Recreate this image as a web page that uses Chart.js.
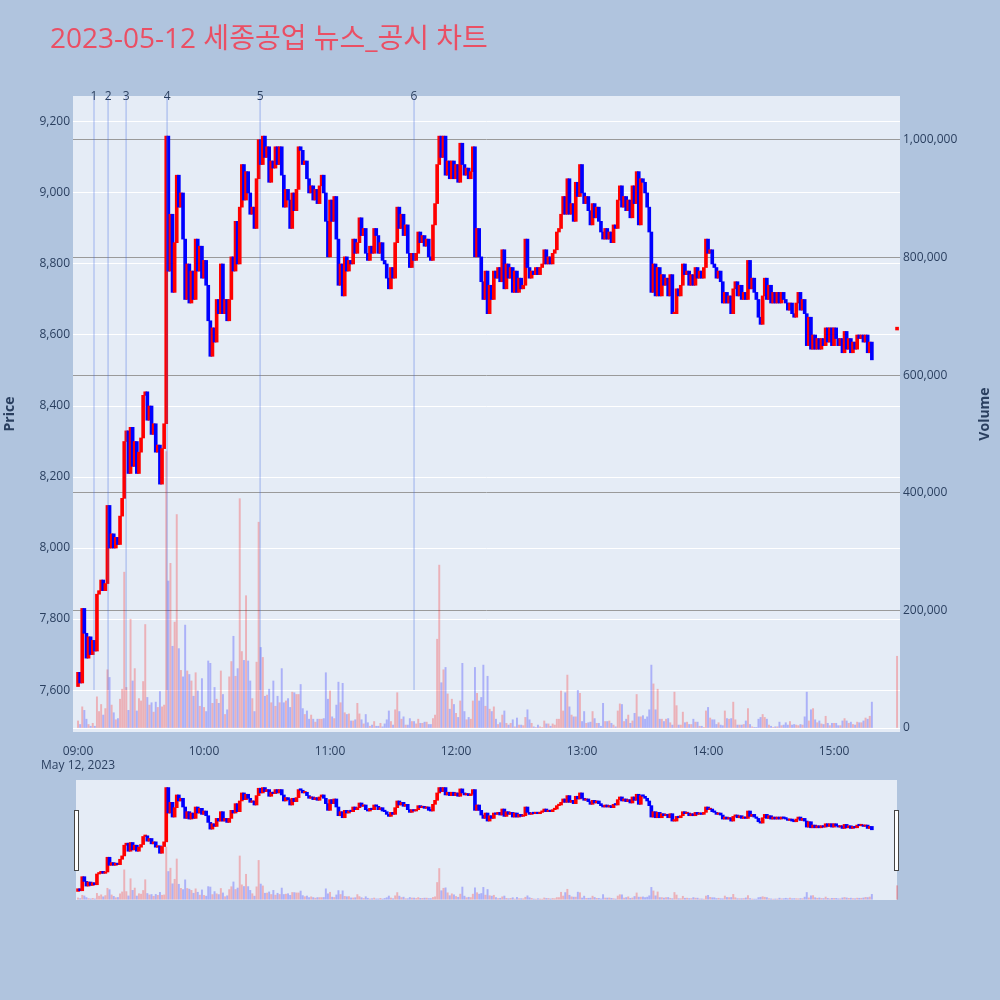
<!DOCTYPE html>
<html>
<head>
<meta charset="utf-8">
<script src="https://cdn.jsdelivr.net/npm/chart.js@4.4.0/dist/chart.umd.min.js"></script>
<style>
  body { margin: 0; background: #b0c4de; }
  #wrap { position: relative; width: 1000px; height: 1000px; }
  canvas { position: absolute; left: 0; }
</style>
</head>
<body>
<div id="wrap">
  <canvas id="main" width="1000" height="1000" style="top:0"></canvas>
  <canvas id="slider" width="1000" height="130" style="top:775px"></canvas>
</div>
<script>
// minutes after 09:00, one close per minute (open = previous close)
const dayOpen = 7610;
const closes = [
  7650,7620,7830,7760,7690,7750,7700,7740,7710,7870,
  7880,7910,7880,7900,8120,8000,8040,8000,8030,8010,
  8090,8140,8300,8330,8210,8340,8230,8300,8210,8270,
  8310,8430,8440,8360,8400,8320,8350,8270,8290,8180,
  8280,8350,9160,8780,8940,8720,8860,9050,8960,9000,
  8870,8700,8800,8690,8780,8700,8870,8780,8850,8760,
  8810,8740,8640,8540,8620,8580,8700,8660,8800,8660,
  8700,8640,8700,8820,8780,8920,8800,8960,9080,8980,
  9060,9000,8940,8960,8900,9040,9150,9080,9160,9100,
  9130,9030,9090,9070,9130,9080,9130,9050,8960,9010,
  8980,8900,9000,8950,9010,9130,9120,9080,9090,9040,
  9000,9020,8980,9010,8970,9020,9050,9000,8920,8820,
  8980,8920,8990,8870,8740,8800,8710,8820,8780,8810,
  8800,8870,8830,8860,8930,8880,8900,8830,8810,8850,
  8830,8900,8880,8830,8860,8810,8800,8760,8730,8790,
  8760,8860,8960,8900,8940,8880,8910,8830,8790,8830,
  8810,8830,8890,8860,8880,8850,8870,8820,8810,8910,
  8970,9080,9160,9100,9160,9050,9090,9040,9090,9040,
  9080,9030,9140,9080,9050,9070,9040,9060,9130,8820,
  8900,8820,8750,8700,8780,8660,8740,8700,8780,8760,
  8790,8750,8840,8730,8800,8760,8790,8720,8780,8720,
  8760,8730,8740,8870,8790,8760,8780,8770,8790,8770,
  8790,8800,8840,8800,8820,8800,8830,8840,8890,8900,
  8940,8990,8940,9040,8940,8970,8920,9030,8990,9080,
  9000,8970,8990,8950,8910,8970,8930,8960,8920,8890,
  8870,8900,8870,8890,8860,8910,8900,8980,9020,8960,
  8990,8950,8980,8930,9020,8970,9060,8910,9040,9030,
  9000,8960,8890,8720,8800,8710,8790,8710,8770,8740,
  8760,8710,8770,8660,8660,8730,8710,8740,8800,8770,
  8780,8740,8770,8740,8790,8760,8780,8760,8790,8870,
  8830,8840,8800,8790,8760,8780,8750,8690,8720,8690,
  8710,8660,8730,8750,8710,8740,8700,8720,8700,8810,
  8730,8760,8720,8700,8650,8630,8710,8760,8700,8740,
  8690,8720,8690,8720,8690,8720,8700,8690,8670,8690,
  8660,8650,8690,8720,8670,8700,8660,8570,8650,8560,
  8600,8560,8590,8560,8590,8570,8620,8580,8620,8570,
  8620,8590,8570,8590,8550,8610,8560,8590,8550,8580,
  8560,8600,8590,8600,8580,8600,8550,8580,8530
];
// volume per minute, thousands of shares
const volumes = [
  12,6,36,30,15,6,3,8,3,53,
  28,40,22,33,99,86,39,26,14,16,
  49,66,265,69,30,185,80,101,29,50,
  46,79,176,52,39,43,27,44,35,62,
  36,39,470,250,280,139,180,363,135,98,
  87,175,97,91,80,54,94,63,37,84,
  35,28,114,110,42,69,49,42,97,57,
  23,31,87,113,156,88,101,390,130,115,
  225,114,80,50,28,112,350,137,120,54,
  56,66,43,80,37,54,43,101,43,46,
  50,35,61,60,57,57,74,33,23,29,
  15,22,15,10,15,15,15,16,94,49,
  63,19,16,39,78,43,76,26,23,24,
  12,12,14,42,24,14,7,23,9,3,
  5,11,3,3,8,2,7,14,29,11,
  5,31,60,28,15,19,5,5,16,11,
  11,7,15,8,8,10,10,6,6,16,
  22,151,277,77,99,103,58,32,49,40,
  25,18,46,110,28,14,18,15,46,103,
  59,46,52,107,37,88,32,28,36,15,
  6,9,22,29,8,5,8,14,2,17,
  5,5,4,18,31,14,8,2,1,5,
  2,1,12,7,7,3,7,5,15,15,
  63,29,60,90,36,22,19,19,64,59,
  11,28,8,9,10,28,16,8,8,3,
  42,11,11,12,8,5,2,29,41,40,
  11,15,22,8,12,25,57,19,19,21,
  15,19,31,107,75,31,66,15,15,11,
  15,16,9,5,61,38,5,5,27,9,
  10,6,6,15,10,10,3,3,1,29,
  35,17,14,14,6,9,5,4,29,16,
  15,16,44,14,5,5,5,6,12,33,
  6,2,1,1,15,18,23,18,15,5,
  3,1,2,2,10,4,5,9,5,11,
  5,6,5,4,6,5,19,61,12,31,
  33,14,9,12,7,6,20,8,4,8,
  8,8,4,4,12,16,12,8,10,6,
  5,10,9,9,12,17,15,20,44
];
// closing auction 15:30
const auctionMinute = 390;
const auctionOpen = 8614;
const auctionClose = 8622;
const auctionVolume = 122;

// news / disclosure times (minutes after 09:00) and labels
const newsMinutes = [7.6, 14.3, 22.9, 42.4, 86.7, 160.0];
const newsLabels = ['1', '2', '3', '4', '5', '6'];

// tick labels
const timeTicks = [0, 60, 120, 180, 240, 300, 360];
const priceTicks = [7600, 7800, 8000, 8200, 8400, 8600, 8800, 9000, 9200];
const volumeTicks = [0, 200000, 400000, 600000, 800000, 1000000];

const FONT = "'Open Sans', 'Noto Sans CJK KR', sans-serif";
const TXT = '#2a3f5f';
Chart.defaults.font.family = FONT;

const upColor = '#ff0000', downColor = '#0000ff';
const upVol = 'rgba(255,0,0,0.25)', downVol = 'rgba(0,0,255,0.25)';

function buildData() {
  const candles = [], vols = [], cCol = [], vCol = [];
  let prev = dayOpen;
  closes.forEach(function(c, i) {
    const up = c >= prev;
    candles.push({x: i, y: [prev, c]});
    vols.push({x: i, y: volumes[i] * 1000});
    cCol.push(up ? upColor : downColor);
    vCol.push(up ? upVol : downVol);
    prev = c;
  });
  candles.push({x: auctionMinute, y: [auctionOpen, auctionClose]});
  vols.push({x: auctionMinute, y: auctionVolume * 1000});
  cCol.push(upColor);
  vCol.push(upVol);
  return [
    {type: 'bar', data: vols, backgroundColor: vCol, yAxisID: 'y2', barThickness: 1.3, grouped: false, order: 2},
    {type: 'bar', data: candles, backgroundColor: cCol, yAxisID: 'y', barThickness: 3, minBarLength: 1.5, grouped: false, order: 1}
  ];
}

const xMin = -2.4, xMax = 391.4;
const yMin = 7482, yMax = 9273;
const vMin = -6800, vMax = 1074800;

function hhmm(v) {
  const h = 9 + Math.floor(v / 60), m = v % 60;
  return String(h).padStart(2, '0') + ':' + String(m).padStart(2, '0');
}
function setTicks(list) {
  return function(s) { s.ticks = list.map(function(v) { return {value: v}; }); };
}

const plotBg = {
  id: 'plotBg',
  beforeDraw(chart) {
    const a = chart.chartArea, ctx = chart.ctx;
    ctx.save();
    ctx.fillStyle = '#e5ecf6';
    if (chart.canvas.id === 'slider') ctx.fillRect(76, a.top, 897 - 76, a.bottom - a.top);
    else ctx.fillRect(a.left, a.top, a.right - a.left, a.bottom - a.top);
    ctx.restore();
  }
};

const newsLines = {
  id: 'newsLines',
  afterDatasetsDraw(chart) {
    const ctx = chart.ctx, x = chart.scales.x, y = chart.scales.y, a = chart.chartArea;
    ctx.save();
    ctx.strokeStyle = 'rgba(65,105,225,0.3)';
    ctx.lineWidth = 1.5;
    ctx.fillStyle = TXT;
    ctx.font = '12px ' + FONT;
    ctx.textAlign = 'center';
    ctx.textBaseline = 'middle';
    newsMinutes.forEach(function(m, i) {
      const px = x.getPixelForValue(m);
      ctx.beginPath();
      ctx.moveTo(px, a.top);
      ctx.lineTo(px, y.getPixelForValue(priceTicks[0]));
      ctx.stroke();
      ctx.fillText(newsLabels[i], px, a.top + 1);
    });
    ctx.restore();
  }
};

const texts = {
  id: 'texts',
  afterDraw(chart) {
    const ctx = chart.ctx;
    ctx.save();
    ctx.fillStyle = '#ea4f64';
    ctx.font = '28px ' + FONT;
    ctx.textBaseline = 'middle';
    ctx.fillText('2023-05-12 세종공업 뉴스_공시 차트', 50, 40);
    ctx.restore();
    [['Price', 10], ['Volume', 985]].forEach(function(t) {
      ctx.save();
      ctx.fillStyle = TXT;
      ctx.font = 'bold 14px ' + FONT;
      ctx.textAlign = 'center';
      ctx.textBaseline = 'middle';
      ctx.translate(t[1], 414);
      ctx.rotate(-Math.PI / 2);
      ctx.fillText(t[0], 0, 0);
      ctx.restore();
    });
  }
};

new Chart(document.getElementById('main'), {
  type: 'bar',
  data: {datasets: buildData()},
  options: {
    responsive: false,
    animation: false,
    events: [],
    layout: {padding: {top: 96, left: 0, right: 0, bottom: 0}},
    plugins: {legend: {display: false}, tooltip: {enabled: false}},
    scales: {
      x: {
        type: 'linear', min: xMin, max: xMax, offset: false,
        grid: {display: false}, border: {display: false},
        afterBuildTicks: setTicks(timeTicks),
        afterFit: function(s) { s.height = 268; },
        ticks: {
          autoSkip: false, maxRotation: 0, padding: 4, color: TXT, font: {size: 12},
          callback: function(v) { return v === 0 ? [hhmm(v), 'May 12, 2023'] : hhmm(v); }
        }
      },
      y: {
        position: 'left', min: yMin, max: yMax,
        grid: {color: '#ffffff', lineWidth: 1, drawTicks: false}, border: {display: false},
        afterBuildTicks: setTicks(priceTicks),
        afterFit: function(s) { s.width = 73; },
        ticks: {autoSkip: false, padding: 3, color: TXT, font: {size: 12},
          callback: function(v) { return v.toLocaleString('en-US'); }}
      },
      y2: {
        position: 'right', min: vMin, max: vMax,
        grid: {color: function(c) { return c.tick && c.tick.value === 0 ? '#ffffff' : '#9a9a9a'; }, lineWidth: 1, drawTicks: false},
        border: {display: false},
        afterBuildTicks: setTicks(volumeTicks),
        afterFit: function(s) { s.width = 100; },
        ticks: {autoSkip: false, padding: 3, color: TXT, font: {size: 12},
          callback: function(v) { return v.toLocaleString('en-US'); }}
      }
    }
  },
  plugins: [plotBg, newsLines, texts]
});

const handles = {
  id: 'handles',
  afterDraw(chart) {
    const ctx = chart.ctx;
    ctx.save();
    ctx.fillStyle = '#ffffff';
    ctx.strokeStyle = '#444444';
    ctx.lineWidth = 1;
    [74.5, 894.5].forEach(function(hx) {
      ctx.fillRect(hx, 35.5, 4, 60);
      ctx.strokeRect(hx, 35.5, 4, 60);
    });
    ctx.restore();
  }
};

new Chart(document.getElementById('slider'), {
  type: 'bar',
  data: {datasets: buildData()},
  options: {
    responsive: false,
    animation: false,
    events: [],
    layout: {padding: {top: 5, left: 73, right: 100, bottom: 5}},
    plugins: {legend: {display: false}, tooltip: {enabled: false}},
    scales: {
      x: {type: 'linear', min: xMin, max: xMax, offset: false, display: false},
      y: {min: yMin, max: yMax, display: false},
      y2: {min: vMin, max: vMax, display: false, position: 'right'}
    }
  },
  plugins: [plotBg, handles]
});
</script>
</body>
</html>
